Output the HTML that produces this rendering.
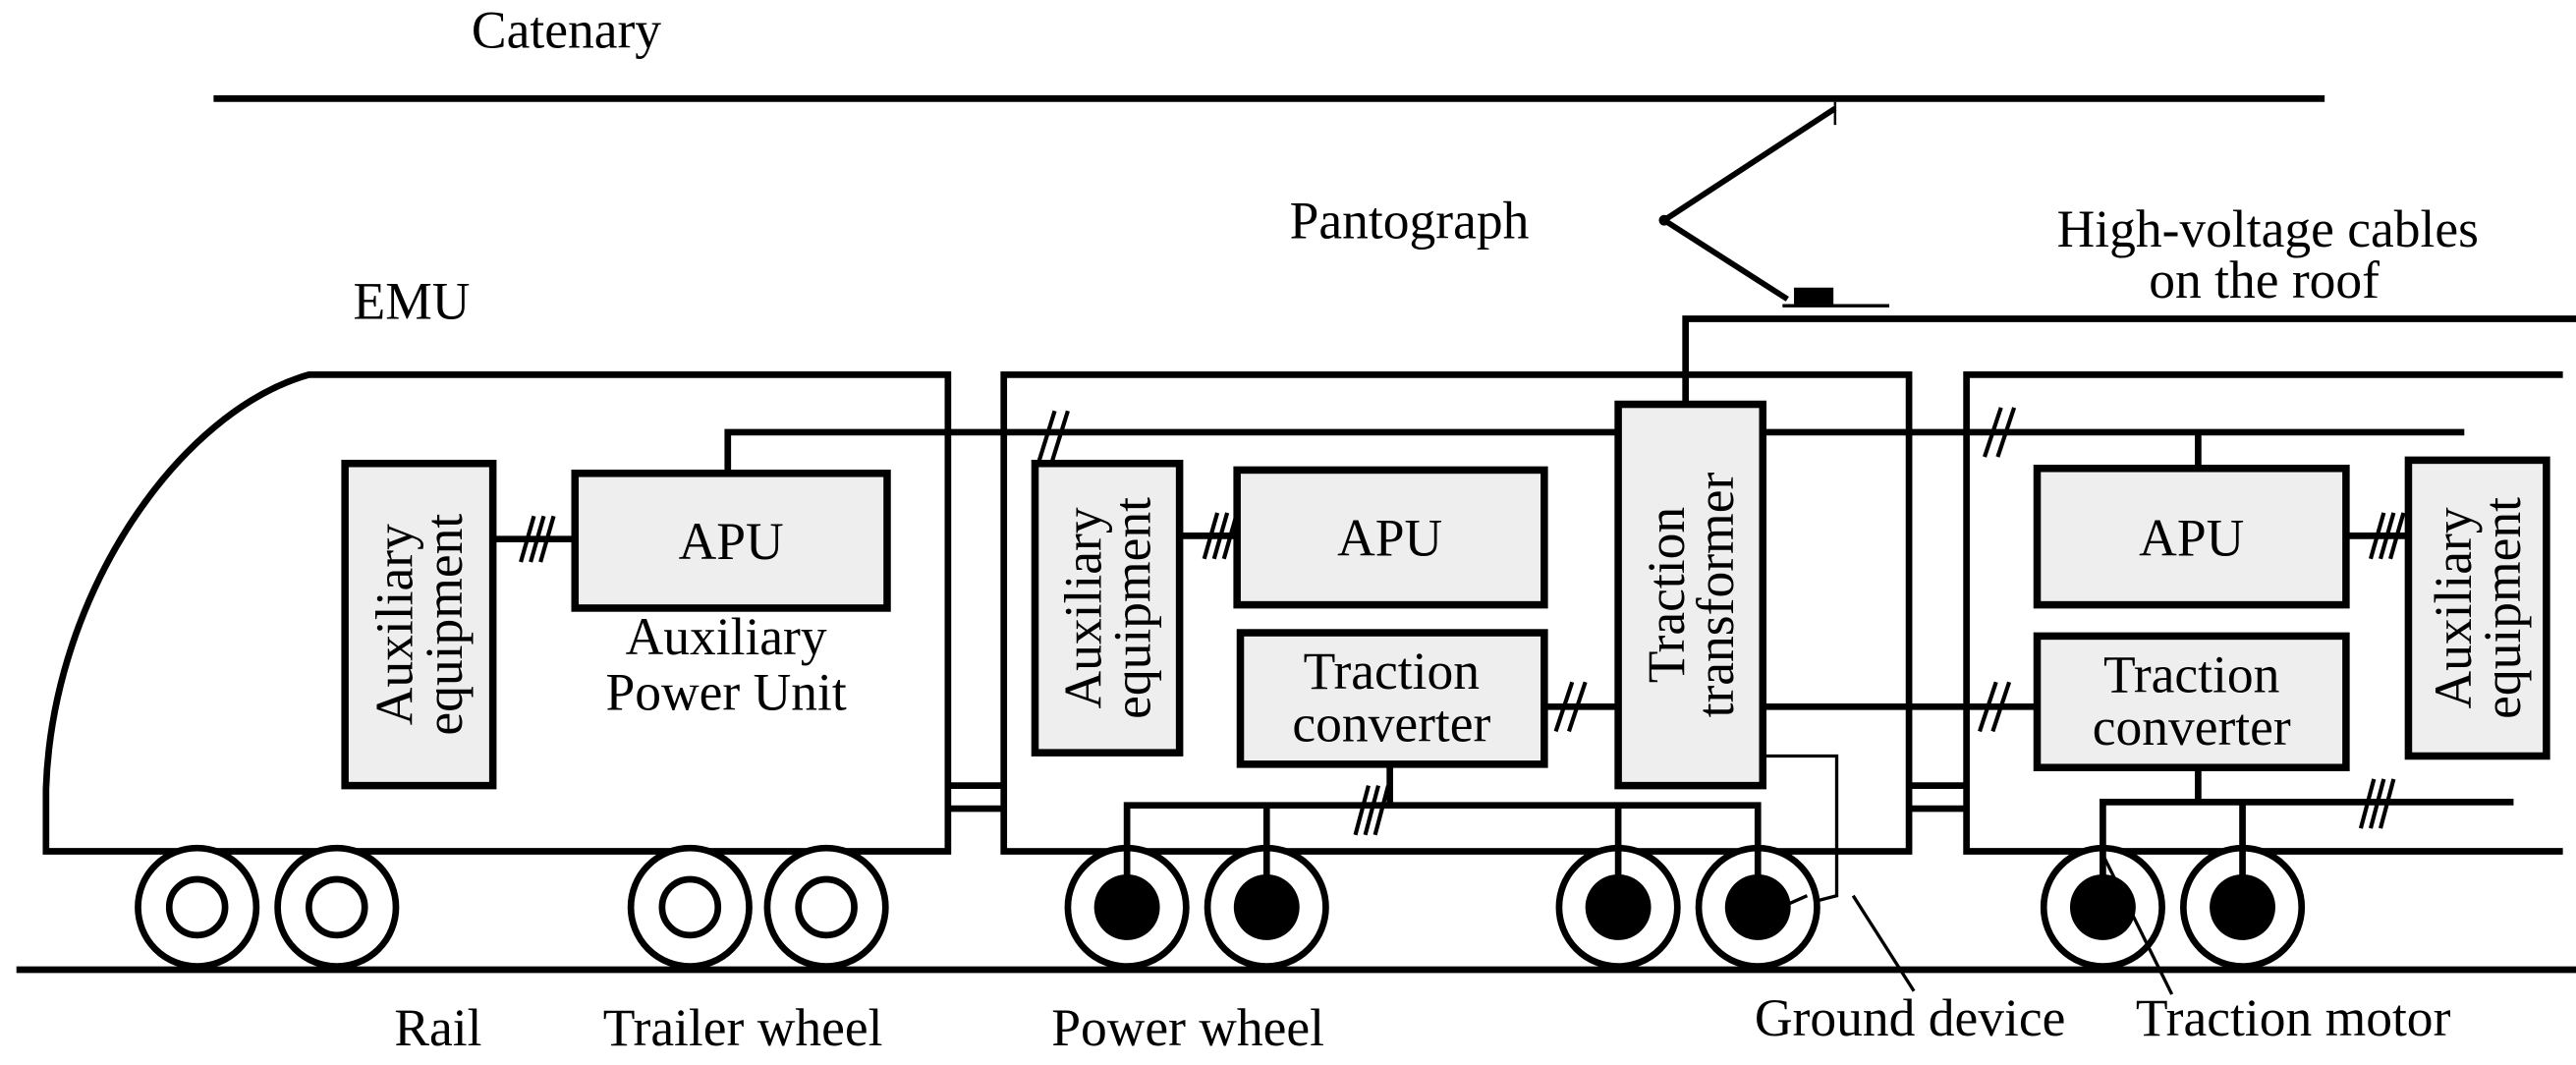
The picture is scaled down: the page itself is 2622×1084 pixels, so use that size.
<!DOCTYPE html>
<html><head><meta charset="utf-8"><style>
html,body{margin:0;padding:0;background:#fff;}
svg{display:block;}
text{font-family:"Liberation Serif",serif;fill:#000;}
</style></head><body>
<svg width="2622" height="1084" viewBox="0 0 1568 648" preserveAspectRatio="none" xmlns="http://www.w3.org/2000/svg">
<g stroke="#000" stroke-width="4" fill="none">
<line x1="130" y1="60" x2="1415" y2="60"/>
<polyline points="1117,66 1013,134 1088,182" stroke-width="3.5"/>
<rect x="1092" y="175" width="24" height="10" fill="#000" stroke="none"/>
<line x1="1085" y1="186" x2="1150" y2="186" stroke-width="2"/>
<line x1="1117" y1="62" x2="1117" y2="76" stroke-width="1.5"/>
<circle cx="1013" cy="134" r="2.5" stroke-width="1.5"/>
<polyline points="1026,246 1026,194 1568,194"/>
<path d="M28,518 L28,480 C32,360 110,250 188,228 L577,228 L577,518 Z"/>
<line x1="577" y1="478" x2="611" y2="478"/><line x1="577" y1="492" x2="611" y2="492"/>
<line x1="1162" y1="478" x2="1197" y2="478"/><line x1="1162" y1="492" x2="1197" y2="492"/>
<rect x="611" y="228" width="551" height="290"/>
<polyline points="1560,228 1197,228 1197,518 1560,518"/>
<polyline points="443,288 443,263 1500,263"/>
<line x1="1338" y1="263" x2="1338" y2="285"/>
<line x1="300" y1="328" x2="350" y2="328"/>
<line x1="718" y1="326" x2="753" y2="326"/>
<line x1="1428" y1="326" x2="1466" y2="326"/>
<line x1="940" y1="430" x2="985" y2="430"/>
<line x1="1073" y1="430" x2="1240" y2="430"/>
<line x1="846" y1="465" x2="846" y2="490"/>
<polyline points="686,548 686,490 1070,490 1070,548"/>
<line x1="771" y1="490" x2="771" y2="548"/>
<line x1="985" y1="490" x2="985" y2="548"/>
<line x1="1338" y1="467" x2="1338" y2="488"/>
<polyline points="1280,548 1280,488 1530,488"/>
<line x1="1365" y1="488" x2="1365" y2="548"/>
<polyline points="1073,460 1118,460 1118,545 1075,556" stroke-width="2"/>
<line x1="1128" y1="545" x2="1165" y2="603" stroke-width="2"/>
<line x1="10" y1="590" x2="1568" y2="590"/>
</g>
<g stroke="#000" stroke-width="4.5" fill="#eeeeee">
<rect x="210" y="282" width="90" height="196"/>
<rect x="350" y="288" width="190" height="82"/>
<rect x="630" y="282" width="88" height="176"/>
<rect x="753" y="286" width="187" height="82"/>
<rect x="755" y="385" width="185" height="80"/>
<rect x="985" y="246" width="88" height="232"/>
<rect x="1240" y="285" width="188" height="83"/>
<rect x="1240" y="387" width="188" height="80"/>
<rect x="1466" y="280" width="84" height="180"/>
</g>
<g stroke="#000" stroke-width="2.5">
<line x1="317" y1="342" x2="325" y2="314"/><line x1="323" y1="342" x2="331" y2="314"/><line x1="329" y1="342" x2="337" y2="314"/>
<line x1="733" y1="340" x2="741" y2="312"/><line x1="739" y1="340" x2="747" y2="312"/><line x1="745" y1="340" x2="753" y2="312"/>
<line x1="1443" y1="340" x2="1451" y2="312"/><line x1="1449" y1="340" x2="1457" y2="312"/><line x1="1455" y1="340" x2="1463" y2="312"/>
<line x1="632" y1="282" x2="642" y2="250"/><line x1="640" y1="282" x2="650" y2="250"/>
<line x1="1208" y1="278" x2="1218" y2="248"/><line x1="1216" y1="278" x2="1226" y2="248"/>
<line x1="947" y1="445" x2="957" y2="415"/><line x1="955" y1="445" x2="965" y2="415"/>
<line x1="1205" y1="445" x2="1215" y2="415"/><line x1="1213" y1="445" x2="1223" y2="415"/>
<line x1="825" y1="508" x2="833" y2="478"/><line x1="831" y1="508" x2="839" y2="478"/><line x1="837" y1="508" x2="845" y2="478"/>
<line x1="1437" y1="504" x2="1445" y2="474"/><line x1="1443" y1="504" x2="1451" y2="474"/><line x1="1449" y1="504" x2="1457" y2="474"/>
</g>
<g stroke="#000" stroke-width="4" fill="#fff">
<circle cx="120" cy="552" r="36"/><circle cx="120" cy="552" r="17"/>
<circle cx="205" cy="552" r="36"/><circle cx="205" cy="552" r="17"/>
<circle cx="420" cy="552" r="36"/><circle cx="420" cy="552" r="17"/>
<circle cx="503" cy="552" r="36"/><circle cx="503" cy="552" r="17"/>
<circle cx="686" cy="552" r="36"/><circle cx="771" cy="552" r="36"/>
<circle cx="985" cy="552" r="36"/><circle cx="1070" cy="552" r="36"/>
<circle cx="1280" cy="552" r="36"/><circle cx="1365" cy="552" r="36"/>
</g>
<g fill="#000">
<circle cx="686" cy="552" r="20"/><circle cx="771" cy="552" r="20"/>
<circle cx="985" cy="552" r="20"/><circle cx="1070" cy="552" r="20"/>
<circle cx="1280" cy="552" r="20"/><circle cx="1365" cy="552" r="20"/>
</g>
<g stroke="#000" stroke-width="4">
<line x1="686" y1="518" x2="686" y2="540"/><line x1="771" y1="518" x2="771" y2="540"/>
<line x1="985" y1="518" x2="985" y2="540"/><line x1="1070" y1="518" x2="1070" y2="540"/>
<line x1="1280" y1="518" x2="1280" y2="540"/><line x1="1365" y1="518" x2="1365" y2="540"/>
</g>
<line x1="1075" y1="556" x2="1100" y2="545" stroke="#000" stroke-width="2"/>
<line x1="1280" y1="520" x2="1322" y2="605" stroke="#000" stroke-width="2"/>
<g font-size="32">
<text x="287" y="29">Catenary</text>
<text x="785" y="145">Pantograph</text>
<text x="1252" y="150">High-voltage cables</text>
<text x="1308" y="181">on the roof</text>
<text x="215" y="194">EMU</text>
<text x="445" y="340" text-anchor="middle">APU</text>
<text x="846" y="338" text-anchor="middle">APU</text>
<text x="1334" y="338" text-anchor="middle">APU</text>
<text x="442" y="398" text-anchor="middle">Auxiliary</text>
<text x="442" y="432" text-anchor="middle">Power Unit</text>
<text x="847" y="419" text-anchor="middle">Traction</text>
<text x="847" y="451" text-anchor="middle">converter</text>
<text x="1334" y="421" text-anchor="middle">Traction</text>
<text x="1334" y="453" text-anchor="middle">converter</text>
<g transform="translate(255,380) rotate(-90)" text-anchor="middle"><text x="0" y="-4">Auxiliary</text><text x="0" y="26">equipment</text></g>
<g transform="translate(674,370) rotate(-90)" text-anchor="middle"><text x="0" y="-4">Auxiliary</text><text x="0" y="26">equipment</text></g>
<g transform="translate(1029,362) rotate(-90)" text-anchor="middle"><text x="0" y="-4">Traction</text><text x="0" y="26">transformer</text></g>
<g transform="translate(1508,370) rotate(-90)" text-anchor="middle"><text x="0" y="-4">Auxiliary</text><text x="0" y="26">equipment</text></g>
<text x="240" y="636">Rail</text>
<text x="367" y="636">Trailer wheel</text>
<text x="640" y="636">Power wheel</text>
<text x="1068" y="630">Ground device</text>
<text x="1300" y="630">Traction motor</text>
</g>
</svg>
</body></html>
